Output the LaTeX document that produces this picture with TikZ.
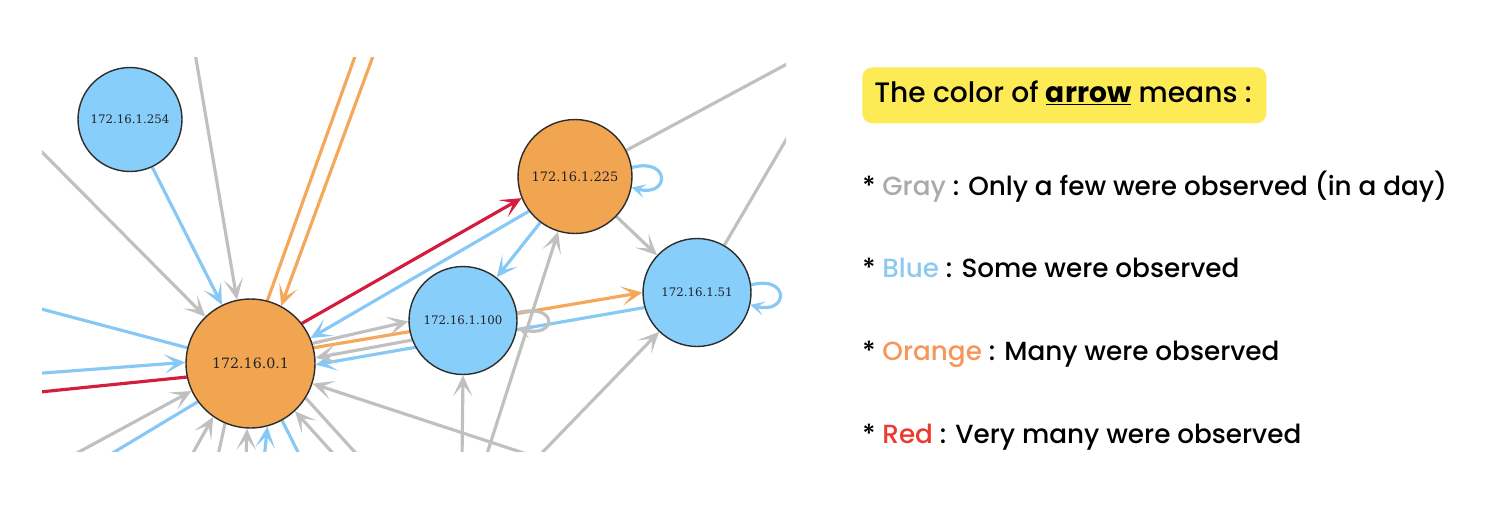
\documentclass[tikz,border=0pt]{standalone}
\usepackage{fontspec}
\setmainfont{Poppins}[UprightFont=* Medium, BoldFont=* Bold]
\newfontfamily\nodefont{DejaVu Serif}
\usetikzlibrary{arrows.meta,backgrounds}

\definecolor{nblue}{RGB}{135,206,250}
\definecolor{norange}{RGB}{242,165,80}
\definecolor{ngray}{RGB}{192,192,192}
\definecolor{eblue}{RGB}{135,200,245}
\definecolor{eorange}{RGB}{245,168,90}
\definecolor{ered}{RGB}{212,28,62}
\definecolor{nborder}{RGB}{45,45,45}
\definecolor{ntext}{RGB}{35,35,40}
\definecolor{hl}{RGB}{253,235,85}
\definecolor{lgray}{RGB}{170,170,170}
\definecolor{lblue}{RGB}{140,202,240}
\definecolor{lorange}{RGB}{246,150,90}
\definecolor{lred}{RGB}{236,58,48}

\tikzset{
  netnode/.style={circle, draw=nborder, line width=0.8pt, inner sep=0pt, text=ntext},
  bluenode/.style={netnode, fill=nblue},
  orangenode/.style={netnode, fill=norange},
  edgeline/.style={line width=1.8pt},
  tip/.style={-{Stealth[length=12pt,width=11pt,inset=6.5pt]}},
  looptip/.style={-{Stealth[length=8pt,width=8pt,inset=4pt]}},
  gedge/.style={edgeline, draw=ngray},
  bedge/.style={edgeline, draw=eblue},
  oedge/.style={edgeline, draw=eorange},
  redge/.style={edgeline, draw=ered},
  legendtext/.style={anchor=base west, inner sep=0pt, font=\fontsize{14.95}{17}\selectfont},
}

\begin{document}
\begin{tikzpicture}[x=0.02cm, y=-0.02cm]
\useasboundingbox (0,0) rectangle (1506,514);

% nodes
\node[bluenode, minimum size=2.08cm, font=\nodefont\fontsize{6.7}{8}\selectfont] (n254) at (130,119.5) {172.16.1.254};
\node[orangenode, minimum size=2.58cm, font=\nodefont\fontsize{8.1}{9}\selectfont] (n01) at (250.5,363.5) {172.16.0.1};
\node[orangenode, minimum size=2.28cm, font=\nodefont\fontsize{7.4}{8}\selectfont] (n225) at (575,176.5) {172.16.1.225};
\node[bluenode, minimum size=2.16cm, font=\nodefont\fontsize{6.7}{8}\selectfont] (n100) at (463,320.5) {172.16.1.100};
\node[bluenode, minimum size=2.16cm, font=\nodefont\fontsize{6.7}{8}\selectfont] (n51) at (697,292.5) {172.16.1.51};

% off-screen ends
\coordinate (o2) at (32,142);
\coordinate (o3) at (194,47);
\coordinate (o4) at (358,48);
\coordinate (o5) at (376,48);
\coordinate (o6) at (30,306);
\coordinate (o7) at (30,374);
\coordinate (o8) at (30,393);
\coordinate (o9) at (64,460);
\coordinate (o10) at (101,460);
\coordinate (o11) at (189,460);
\coordinate (o12) at (217,460);
\coordinate (o13) at (246,460);
\coordinate (o14) at (264,460);
\coordinate (o15) at (302,460);
\coordinate (o16) at (339,460);
\coordinate (o17) at (362,460);
\coordinate (o18) at (545,460);
\coordinate (o23) at (462,460);
\coordinate (o24) at (485,460);
\coordinate (o25) at (535,460);
\coordinate (o26) at (800,57);
\coordinate (o28) at (800,116);

\begin{scope}[on background layer]
\clip (42,57) rectangle (786,451);
\draw[gedge,tip] (o2) -- (n01.134);
\draw[gedge,tip] (o3) -- (n01.102);
\draw[bedge,tip] (n254.-65) -- (n01.116);
\draw[oedge] (n01.75) -- (o4);
\draw[oedge,tip] (o5) -- (n01.62);
\draw[bedge] (n01.166) -- (o6);
\draw[bedge,tip] (o7) -- (n01.179);
\draw[redge] (n01.192) -- (o8);
\draw[gedge,tip] (o9) -- (n01.205);
\draw[bedge] (n01.216) -- (o10);
\draw[gedge,tip] (o11) -- (n01.235);
\draw[gedge] (n01.247) -- (o12);
\draw[gedge,tip] (o13) -- (n01.267);
\draw[bedge,tip] (o14) -- (n01.285);
\draw[bedge] (n01.299) -- (o15);
\draw[gedge,tip] (o16) -- (n01.313);
\draw[gedge] (n01.328) -- (o17);
\draw[gedge,tip] (o18) -- (n01.342);
\draw[oedge,tip] (n01.14) -- (n51.180);
\draw[bedge,tip] (n51.196) -- (n01.-1);
\draw[redge,tip] (n01.38) -- (n225.202);
\draw[bedge,tip] (n225.217) -- (n01.23);
\draw[bedge,tip] (n225.233) -- (n100.52);
\draw[gedge,tip] (n01.18) -- (n100.181);
\draw[gedge,tip] (n100.201) -- (n01.5);
\draw[gedge,tip] (o23) -- (n100.270);
\draw[gedge,tip] (o24) -- (n225.253);
\draw[gedge,tip] (o25) -- (n51.226);
\draw[gedge] (n225.27) -- (o26);
\draw[gedge,tip] (n225.316) -- (n51.137);
\draw[gedge] (n51.60) -- (o28);
% self loops
\draw[gedge,looptip] (n100.8) .. controls +(15:0.85cm) and +(-15:0.85cm) .. (n100.-8);
\draw[bedge,looptip] (n225.9) .. controls +(15:0.8cm) and +(-15:0.8cm) .. (n225.-11);
\draw[bedge,looptip] (n51.8) .. controls +(15:0.8cm) and +(-15:0.8cm) .. (n51.-13);
\end{scope}

% legend
\node[fill=hl, rounded corners=0.2cm, minimum width=8.08cm, minimum height=1.12cm, anchor=north west, inner sep=0pt] (box) at (862,67) {};
\node[anchor=base west, inner sep=0pt, font=\fontsize{16}{18}\selectfont] (title) at (874,102) {The color of \textbf{\underline{arrow}} means :};
\node[legendtext] (lg1) at (862,195) {* \textcolor{lgray}{Gray} : Only a few were observed (in a day)};
\node[legendtext] (lg2) at (862,277) {* \textcolor{lblue}{Blue} : Some were observed};
\node[legendtext] (lg3) at (862,360) {* \textcolor{lorange}{Orange} : Many were observed};
\node[legendtext] (lg4) at (862,443) {* \textcolor{lred}{Red} : Very many were observed};
\end{tikzpicture}
\end{document}
